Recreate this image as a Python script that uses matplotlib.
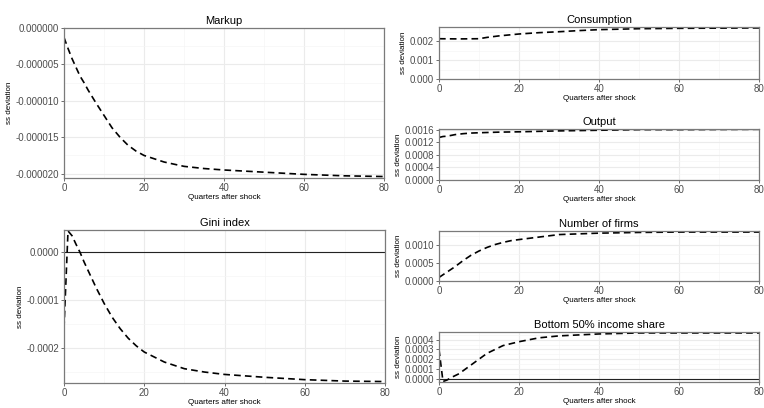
"""Impulse responses to the shock: six panels in ggplot theme_bw style, saved as out.png."""

import matplotlib.pyplot as plt
from matplotlib.ticker import FormatStrFormatter, MultipleLocator

plt.rcParams["font.family"] = ["Liberation Sans", "DejaVu Sans"]

MARKUP_Q = [0, 1, 2, 3, 4, 5, 6, 8, 10, 12, 14, 16, 18, 20, 25, 30, 35, 40, 50, 60, 70, 80]
MARKUP = [-1.3e-6, -2.8e-6, -4.2e-6, -5.4e-6, -6.6e-6, -7.5e-6, -8.5e-6, -10.3e-6, -12.0e-6,
          -13.7e-6, -15.0e-6, -16.1e-6, -16.9e-6, -17.5e-6, -18.4e-6, -19.0e-6, -19.3e-6,
          -19.5e-6, -19.8e-6, -20.1e-6, -20.3e-6, -20.4e-6]

GINI_Q = [0, 1, 2, 3, 4, 5, 6, 8, 10, 12, 14, 16, 18, 20, 25, 30, 35, 40, 50, 60, 70, 80]
GINI = [-1.59e-4, 0.45e-4, 0.35e-4, 0.17e-4, 0.0, -0.2e-4, -0.38e-4, -0.74e-4, -1.07e-4,
        -1.36e-4, -1.60e-4, -1.80e-4, -1.96e-4, -2.09e-4, -2.30e-4, -2.44e-4, -2.51e-4,
        -2.56e-4, -2.62e-4, -2.67e-4, -2.70e-4, -2.71e-4]

CONS_Q = [0, 5, 10, 12, 15, 20, 25, 30, 35, 40, 50, 60, 70, 80]
CONS = [0.00213, 0.00212, 0.00213, 0.00220, 0.00228, 0.00238, 0.00245, 0.00250, 0.00256,
        0.00261, 0.00266, 0.00268, 0.00269, 0.00270]

OUTPUT_Q = [0, 1, 2, 4, 6, 8, 10, 15, 20, 30, 40, 50, 60, 80]
OUTPUT = [0.00136, 0.00139, 0.00140, 0.00145, 0.00148, 0.00150, 0.00151, 0.00153, 0.00154,
          0.00157, 0.00159, 0.00161, 0.00161, 0.00162]

FIRMS_Q = [0, 2, 4, 6, 8, 10, 12, 14, 16, 18, 20, 25, 30, 35, 40, 50, 60, 80]
FIRMS = [0.00010, 0.00025, 0.00040, 0.00057, 0.00072, 0.00084, 0.00094, 0.00102, 0.00108,
         0.00113, 0.00116, 0.00123, 0.00130, 0.00132, 0.00134, 0.00136, 0.00137, 0.00137]

B50_Q = [0, 1, 2, 3, 4, 5, 6, 8, 10, 12, 14, 16, 18, 20, 25, 30, 40, 50, 60, 80]
B50 = [0.00030, -0.00003, -0.000015, 0.00001, 0.00003, 0.00005, 0.00008, 0.00014, 0.00020,
       0.00026, 0.00030, 0.00034, 0.00036, 0.00038, 0.00042, 0.00044, 0.00046, 0.00047,
       0.00047, 0.00047]

# (title, quarters, values, ylim, y major step, tick format, zero line, axes rect)
PANELS = [
    ("Markup", MARKUP_Q, MARKUP, (-2.06e-5, 0.0), 5e-6, "%.6f", False,
     [64 / 764, 1 - 178 / 408, 320 / 764, 150 / 408]),
    ("Gini index", GINI_Q, GINI, (-2.74e-4, 0.47e-4), 1e-4, "%.4f", True,
     [64 / 764, 1 - 383 / 408, 321 / 764, 153 / 408]),
    ("Consumption", CONS_Q, CONS, (0.0, 0.00275), 0.001, "%.3f", False,
     [439 / 764, 1 - 79 / 408, 320 / 764, 52 / 408]),
    ("Output", OUTPUT_Q, OUTPUT, (0.0, 0.00163), 0.0004, "%.4f", False,
     [439 / 764, 1 - 180 / 408, 320 / 764, 51 / 408]),
    ("Number of firms", FIRMS_Q, FIRMS, (0.0, 0.0014), 0.0005, "%.4f", False,
     [439 / 764, 1 - 281 / 408, 320 / 764, 50 / 408]),
    ("Bottom 50% income share", B50_Q, B50, (-0.000035, 0.00048), 0.0001, "%.4f", True,
     [439 / 764, 1 - 382 / 408, 320 / 764, 50 / 408]),
]


def style_axes(ax, ylim, ystep, fmt):
    """theme_bw look: grey frame, light major and minor grids, grey tick labels."""
    ax.set_xlim(0, 80)
    ax.set_ylim(*ylim)
    ax.xaxis.set_major_locator(MultipleLocator(20))
    ax.xaxis.set_minor_locator(MultipleLocator(10))
    ax.yaxis.set_major_locator(MultipleLocator(ystep))
    ax.yaxis.set_minor_locator(MultipleLocator(ystep / 2))
    ax.yaxis.set_major_formatter(FormatStrFormatter(fmt))
    ax.grid(which="major", color="#EBEBEB", linewidth=0.8)
    ax.grid(which="minor", color="#F5F5F5", linewidth=0.5)
    ax.set_axisbelow(True)
    for spine in ax.spines.values():
        spine.set_color("#7A7A7A")
        spine.set_linewidth(0.9)
    ax.tick_params(which="major", length=2, width=0.6, color="#555555",
                   labelsize=7, labelcolor="#4D4D4D", pad=1.5)
    ax.tick_params(which="minor", length=0)
    ax.set_xlabel("Quarters after shock", fontsize=5.8, labelpad=1)
    ax.set_ylabel("ss deviation", fontsize=5.8, labelpad=2)


def main():
    fig = plt.figure(figsize=(7.64, 4.08), dpi=100)

    for title, quarters, values, ylim, ystep, fmt, zero_line, rect in PANELS:
        ax = fig.add_axes(rect)
        style_axes(ax, ylim, ystep, fmt)
        if zero_line:
            ax.axhline(0, color="#222222", linewidth=0.8)
        ax.plot(quarters, values, color="black", linestyle=(0, (4, 2.5)), linewidth=1.2)
        ax.set_title(title, fontsize=8, pad=3)

    fig.savefig("out.png", dpi=100, facecolor="white")
    plt.close(fig)


if __name__ == "__main__":
    main()
